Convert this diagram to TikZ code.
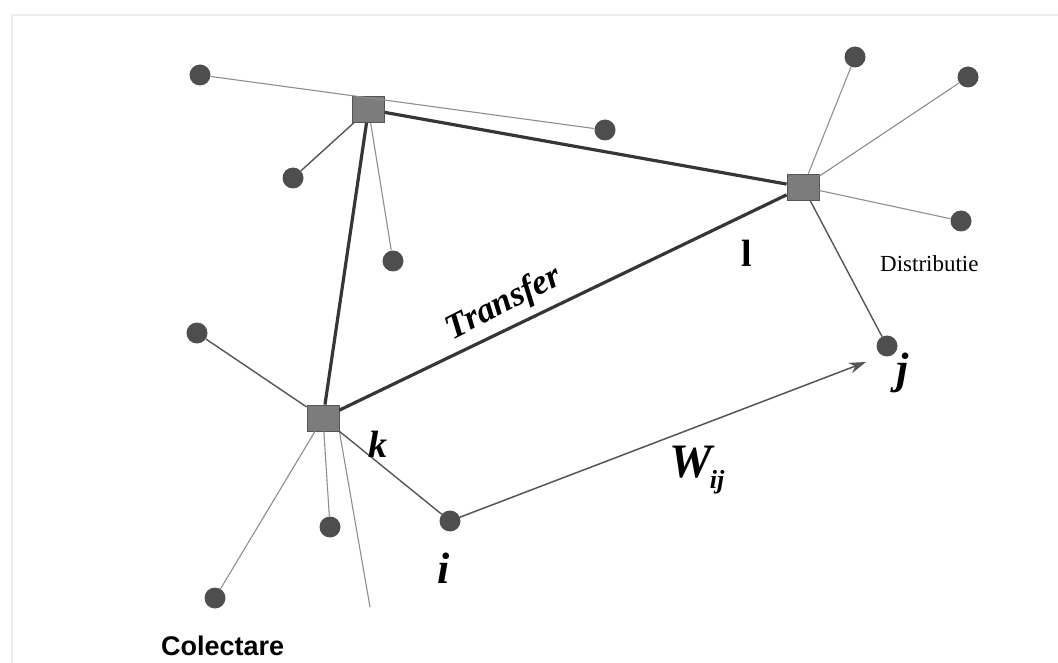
\documentclass[tikz,border=0pt]{standalone}
\usepackage{fontspec}
\setmainfont{Liberation Serif}
\newfontfamily\labsans{Liberation Sans}
\usetikzlibrary{arrows.meta}
\definecolor{dotcol}{HTML}{4E4E4E}
\definecolor{hubcol}{HTML}{7C7C7C}
\definecolor{hubedge}{HTML}{555555}
\definecolor{thincol}{HTML}{8E8E8E}
\definecolor{darkthin}{HTML}{555555}
\definecolor{thickcol}{HTML}{363636}
\definecolor{framecol}{HTML}{ECECEC}
\tikzset{
  dotnode/.style={circle, fill=dotcol, inner sep=0pt, minimum size=21pt},
  hubnode/.style={rectangle, fill=hubcol, draw=hubedge, line width=0.8pt, minimum width=32pt, minimum height=26pt, inner sep=0pt},
  thinline/.style={draw=thincol, line width=1.1pt},
  darkline/.style={draw=darkthin, line width=1.4pt},
  thickline/.style={draw=thickcol, line width=3.2pt},
  flowarrow/.style={draw=darkthin, line width=1.5pt, -{Stealth[length=17pt,width=11pt]}},
}
\begin{document}
\begin{tikzpicture}[x=1pt,y=-1pt]
\useasboundingbox (0,0) rectangle (1058,663);
% faint frame
\draw[framecol, line width=1.2pt] (12,668) -- (12,15) -- (1062,15);
% hubs
\node[hubnode] (H1) at (368.5,109.5) {};
\node[hubnode] (H2) at (803,187) {};
\node[hubnode] (H3) at (323,418) {};
% dots
\node[dotnode] (a1) at (200,75) {};
\node[dotnode] (a2) at (605,130) {};
\node[dotnode] (a3) at (293,178) {};
\node[dotnode] (a4) at (393,261) {};
\node[dotnode] (b1) at (855,57) {};
\node[dotnode] (b2) at (968,77) {};
\node[dotnode] (b3) at (961,221) {};
\node[dotnode] (j) at (887,346) {};
\node[dotnode] (c1) at (197,333) {};
\node[dotnode] (c2) at (215,598) {};
\node[dotnode] (c3) at (330,527) {};
\node[dotnode] (i) at (450,521) {};
\coordinate (e) at (370,607);
\coordinate (wend) at (866,362);
% thick links
\draw[thickline] (H1) -- (H2);
\draw[thickline] (H1) -- (H3);
\draw[thickline] (H3) -- (H2);
% thin links
\draw[thinline] (a1) -- (a2);
\draw[darkline] (H1) -- (a3);
\draw[thinline] (H1) -- (a4);
\draw[thinline] (H2) -- (b1);
\draw[thinline] (H2) -- (b2);
\draw[thinline] (H2) -- (b3);
\draw[darkline] (H2) -- (j);
\draw[darkline] (H3) -- (c1);
\draw[thinline] (H3) -- (c2);
\draw[thinline] (H3) -- (c3);
\draw[thinline] (H3.south east) -- (e);
\draw[darkline] (H3) -- (i);
\draw[flowarrow] (i) -- (wend);
% labels
\node[font=\fontsize{35}{35}\selectfont\bfseries\itshape, rotate=27, inner sep=0pt] (transfer) at (504,304) {Transfer};
\node[anchor=base west, inner sep=0pt] (wij) at (669,477) {\fontsize{48}{48}\selectfont\bfseries\itshape W\kern-2pt\raisebox{-11pt}{\fontsize{26}{26}\selectfont ij}};
\node[anchor=base, inner sep=0pt, font=\fontsize{44}{44}\selectfont\bfseries\itshape] (ilab) at (444,583) {i};
\node[anchor=base, inner sep=0pt, font=\fontsize{44}{44}\selectfont\bfseries\itshape] (jlab) at (903,383) {j};
\node[anchor=base, inner sep=0pt, font=\fontsize{38}{38}\selectfont\bfseries\itshape] (klab) at (378,457) {k};
\node[anchor=base, inner sep=0pt, font=\fontsize{38}{38}\selectfont\bfseries] (llab) at (747,266) {l};
\node[anchor=base west, inner sep=0pt, font=\fontsize{23}{23}\selectfont] (dist) at (880,272) {Distributie};
\node[anchor=base west, inner sep=0pt, font=\labsans\fontsize{27}{27}\selectfont\bfseries] (colect) at (161,655) {Colectare};
\end{tikzpicture}
\end{document}
